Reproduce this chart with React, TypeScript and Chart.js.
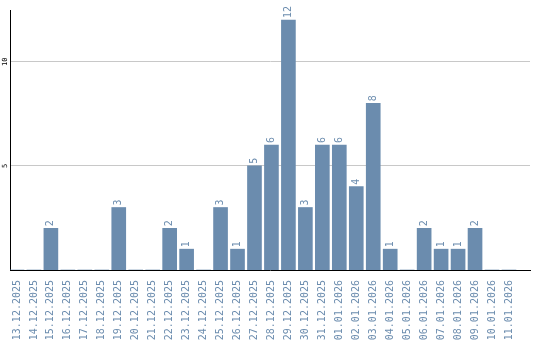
import React, { useEffect, useRef } from "react";
import { Chart, registerables } from "chart.js";

Chart.register(...registerables);

const categories = [
  "13.12.2025", "14.12.2025", "15.12.2025", "16.12.2025", "17.12.2025",
  "18.12.2025", "19.12.2025", "20.12.2025", "21.12.2025", "22.12.2025",
  "23.12.2025", "24.12.2025", "25.12.2025", "26.12.2025", "27.12.2025",
  "28.12.2025", "29.12.2025", "30.12.2025", "31.12.2025", "01.01.2026",
  "02.01.2026", "03.01.2026", "04.01.2026", "05.01.2026", "06.01.2026",
  "07.01.2026", "08.01.2026", "09.01.2026", "10.01.2026", "11.01.2026",
];

const counts = [
  0, 0, 2, 0, 0, 0, 3, 0, 0, 2,
  1, 0, 3, 1, 5, 6, 12, 3, 6, 6,
  4, 8, 1, 0, 2, 1, 1, 2, 0, 0,
];

const yTicks = [5, 10];

const BAR = "#6b8cae";
const MONO = "'DejaVu Sans Mono', monospace";

const valueLabels = {
  id: "valueLabels",
  afterDatasetsDraw(chart: any) {
    const ctx = chart.ctx;
    const meta = chart.getDatasetMeta(0);
    ctx.save();
    ctx.fillStyle = BAR;
    ctx.font = `10px ${MONO}`;
    ctx.textAlign = "left";
    ctx.textBaseline = "middle";
    meta.data.forEach((el: any, i: number) => {
      const v = counts[i];
      if (!v) return;
      ctx.save();
      ctx.translate(el.x, el.y - 2);
      ctx.rotate(-Math.PI / 2);
      ctx.fillText(String(v), 0, 0);
      ctx.restore();
    });
    ctx.restore();
  },
};

export default function App() {
  const ref = useRef<HTMLCanvasElement | null>(null);
  useEffect(() => {
    if (!ref.current) return;
    const chart = new Chart(ref.current, {
      type: "bar",
      data: {
        datasets: [
          {
            data: counts.map((v, i) => ({ x: i, y: v })),
            backgroundColor: BAR,
            borderWidth: 0,
            barThickness: 14,
          },
        ],
      },
      options: {
        animation: false,
        responsive: false,
        maintainAspectRatio: false,
        layout: { padding: { top: 10, right: 9, left: 0, bottom: 0 } },
        plugins: {
          legend: { display: false },
          tooltip: { enabled: false },
        },
        scales: {
          x: {
            type: "linear",
            offset: false,
            min: -0.41,
            max: 30.24,
            grid: { display: false },
            border: { display: true, color: "#000", width: 1 },
            afterFit: (s: any) => {
              s.height = 70;
            },
            ticks: {
              stepSize: 1,
              includeBounds: false,
              autoSkip: false,
              minRotation: 90,
              maxRotation: 90,
              padding: 2,
              color: BAR,
              font: { family: MONO, size: 10 },
              callback: (v: any) => categories[Number(v)] ?? "",
            },
          },
          y: {
            min: 0,
            max: 12.48,
            afterFit: (s: any) => {
              s.width = 10;
            },
            afterBuildTicks: (s: any) => {
              s.ticks = yTicks.map((v) => ({ value: v }));
            },
            grid: { color: "#c8c8c8", drawTicks: false },
            border: { display: true, color: "#000", width: 1 },
            ticks: {
              stepSize: 5,
              includeBounds: false,
              minRotation: 90,
              maxRotation: 90,
              crossAlign: "center",
              padding: 1,
              color: "#000",
              font: { family: MONO, size: 7 },
            },
          },
        },
      },
      plugins: [valueLabels],
    } as any);
    return () => chart.destroy();
  }, []);
  return (
    <div style={{ position: "fixed", left: 0, top: 0, width: 540, height: 340, background: "#fff" }}>
      <canvas ref={ref} width={540} height={340} style={{ width: 540, height: 340 }} />
    </div>
  );
}
